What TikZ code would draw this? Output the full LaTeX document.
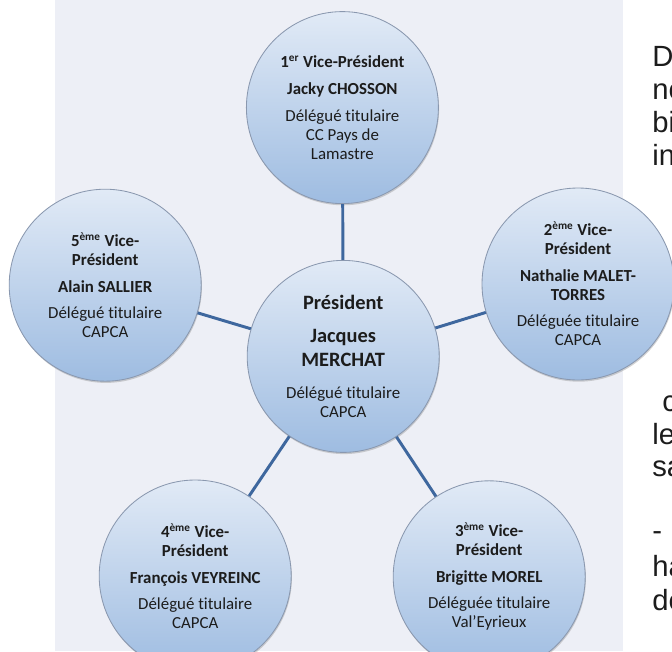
\documentclass[tikz,border=0pt]{standalone}
\usepackage{fontspec}
\setmainfont{Carlito}[Ligatures=NoCommon]
\newfontfamily\sidefont{Liberation Sans}
\usetikzlibrary{positioning,shadows}
\definecolor{bgpanel}{RGB}{237,239,246}
\definecolor{disctop}{RGB}{225,234,246}
\definecolor{discbottom}{RGB}{158,188,225}
\definecolor{discrim}{RGB}{138,152,175}
\definecolor{linkblue}{RGB}{62,103,158}
\definecolor{ink}{RGB}{28,28,28}

\begin{document}
\begin{tikzpicture}[
    member/.style={circle, minimum size=4.8cm, inner sep=0pt, draw=discrim, line width=0.6pt,
        top color=disctop, bottom color=discbottom, align=center, text=ink,
        font=\fontsize{12}{13.5}\selectfont,
        drop shadow={shadow xshift=0.5pt, shadow yshift=-1.2pt, opacity=0.35}},
    link/.style={draw=linkblue, line width=2.1pt},
    side/.style={anchor=base west, inner sep=0pt, text=ink, font=\sidefont\fontsize{20.8}{24}\selectfont}
]
    \clip (0,0) rectangle (16.8,-16.275);
    \fill[bgpanel] (1.375,0) rectangle (15.575,-16.275);

    % cut-off text on the right
    \node[side] (d1) at (16.3,-1.65) {D};
    \node[side] (d2) at (16.3,-2.475) {nc};
    \node[side] (d3) at (16.3,-3.3) {bi};
    \node[side] (d4) at (16.3,-4.125) {in};
    \node[side] (d5) at (16.55,-10.275) {c};
    \node[side] (d6) at (16.3,-11.1) {le};
    \node[side] (d7) at (16.3,-11.9) {sa};
    \node[side] (d8) at (16.3,-13.5) {-};
    \node[side] (d9) at (16.3,-14.4) {ha};
    \node[side] (d10) at (16.3,-15.25) {de};

    % President
    \node[member] (pres) at (8.58,-8.91) {{\fontsize{14.5}{17}\selectfont\bfseries Président}\\[10.5pt]
        {\fontsize{14.5}{17}\selectfont\bfseries Jacques}\\[3.5pt]
        {\fontsize{14.5}{17}\selectfont\bfseries MERCHAT}\\[9.5pt]
        Délégué titulaire\\CAPCA};

    % Vice-Presidents
    \node[member] (vp1) at (8.56,-2.69) {\textbf{1\textsuperscript{er} Vice-Président}\\[5.5pt]
        \textbf{Jacky CHOSSON}\\[5.3pt]
        Délégué titulaire\\CC Pays de\\Lamastre};
    \node[member] (vp2) at (14.45,-7.1) {\textbf{2\textsuperscript{ème} Vice-}\\\textbf{Président}\\[5.5pt]
        \textbf{Nathalie MALET-}\\\textbf{TORRES}\\[5.3pt]
        Déléguée titulaire\\CAPCA};
    \node[member] (vp3) at (12.23,-14.42) {\textbf{3\textsuperscript{ème} Vice-}\\\textbf{Président}\\[5.5pt]
        \textbf{Brigitte MOREL}\\[5.3pt]
        Déléguée titulaire\\Val'Eyrieux};
    \node[member] (vp4) at (4.88,-14.4) {\textbf{4\textsuperscript{ème} Vice-}\\\textbf{Président}\\[5.5pt]
        \textbf{François VEYREINC}\\[5.3pt]
        Délégué titulaire\\CAPCA};
    \node[member] (vp5) at (2.63,-7.13) {\textbf{5\textsuperscript{ème} Vice-}\\\textbf{Président}\\[5.5pt]
        \textbf{Alain SALLIER}\\[5.3pt]
        Délégué titulaire\\CAPCA};

    \draw[link] (vp1) -- (pres);
    \draw[link] (vp2) -- (pres);
    \draw[link] (vp3) -- (pres);
    \draw[link] (vp4) -- (pres);
    \draw[link] (vp5) -- (pres);
\end{tikzpicture}
\end{document}
